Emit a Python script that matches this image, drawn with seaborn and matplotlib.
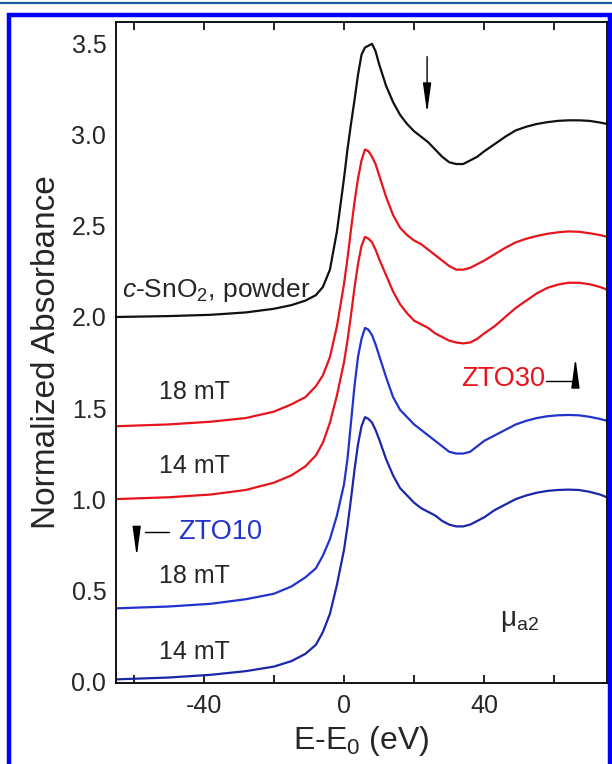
import numpy as np
import pandas as pd
import matplotlib
matplotlib.use("Agg")
import matplotlib.pyplot as plt
from matplotlib.patches import Rectangle
from matplotlib.lines import Line2D
from matplotlib.ticker import FixedLocator
import seaborn as sns

# ---- data ----
energy = [-65, -50, -38, -28, -20, -15, -11, -8, -6, -4, -2,
          0, 1, 2, 3, 4, 5, 6, 7, 8, 9, 10,
          12, 14, 16, 18, 20, 22, 24, 26, 28, 30, 32, 34, 36, 38, 40,
          43, 46, 49, 52, 55, 58, 61, 64, 67, 70, 73, 75]

snO2_powder = [2.00, 2.005, 2.012, 2.025, 2.045, 2.065, 2.09, 2.12, 2.165, 2.26, 2.47,
               2.76, 2.92, 3.06, 3.19, 3.33, 3.44, 3.48, 3.49, 3.50, 3.46, 3.39,
               3.27, 3.18, 3.11, 3.06, 3.02, 2.99, 2.96, 2.92, 2.88, 2.85, 2.84, 2.84, 2.86, 2.88, 2.91,
               2.95, 2.99, 3.025, 3.045, 3.06, 3.07, 3.077, 3.08, 3.08, 3.077, 3.068, 3.06]

zto30_18mT = [1.40, 1.41, 1.425, 1.445, 1.48, 1.52, 1.56, 1.62, 1.68, 1.78, 1.95,
              2.18, 2.32, 2.48, 2.63, 2.76, 2.86, 2.92, 2.91, 2.88, 2.84, 2.78,
              2.66, 2.56, 2.49, 2.45, 2.42, 2.40, 2.37, 2.34, 2.31, 2.28, 2.26, 2.26, 2.27, 2.29, 2.31,
              2.345, 2.38, 2.41, 2.43, 2.445, 2.457, 2.465, 2.47, 2.468, 2.46, 2.45, 2.44]

zto30_14mT = [1.00, 1.01, 1.025, 1.05, 1.09, 1.13, 1.18, 1.24, 1.31, 1.42, 1.57,
              1.75, 1.87, 2.01, 2.16, 2.29, 2.39, 2.44, 2.43, 2.41, 2.37, 2.32,
              2.23, 2.14, 2.07, 2.02, 1.98, 1.96, 1.94, 1.91, 1.89, 1.87, 1.86, 1.855, 1.86, 1.88, 1.91,
              1.95, 2.00, 2.05, 2.09, 2.13, 2.16, 2.178, 2.188, 2.188, 2.18, 2.165, 2.15]

zto10_18mT = [0.40, 0.41, 0.425, 0.45, 0.48, 0.52, 0.57, 0.62, 0.69, 0.78, 0.91,
              1.08, 1.22, 1.42, 1.62, 1.78, 1.88, 1.94, 1.93, 1.90, 1.85, 1.79,
              1.67, 1.56, 1.49, 1.45, 1.41, 1.38, 1.35, 1.32, 1.29, 1.26, 1.25, 1.25, 1.26, 1.29, 1.32,
              1.35, 1.38, 1.41, 1.43, 1.445, 1.455, 1.46, 1.462, 1.46, 1.452, 1.44, 1.43]

zto10_14mT = [0.01, 0.02, 0.035, 0.055, 0.08, 0.11, 0.15, 0.20, 0.27, 0.37, 0.53,
              0.72, 0.85, 1.00, 1.16, 1.30, 1.40, 1.45, 1.44, 1.42, 1.38, 1.33,
              1.22, 1.13, 1.06, 1.02, 0.98, 0.95, 0.93, 0.91, 0.88, 0.86, 0.85, 0.85, 0.86, 0.88, 0.90,
              0.94, 0.97, 1.00, 1.02, 1.035, 1.045, 1.05, 1.052, 1.05, 1.04, 1.025, 1.01]

series_names = ["c-SnO2 powder", "ZTO30 18 mT", "ZTO30 14 mT", "ZTO10 18 mT", "ZTO10 14 mT"]
series_values = [snO2_powder, zto30_18mT, zto30_14mT, zto10_18mT, zto10_14mT]
series_colors = ["#111111", "#e8141c", "#e8141c", "#2233cc", "#1a27a8"]

x_major = [-40, 0, 40]
x_minor = [-60, -20, 20, 60]
y_ticks = [0.0, 0.5, 1.0, 1.5, 2.0, 2.5, 3.0, 3.5]

df = pd.concat([pd.DataFrame({"E": energy, "A": v, "series": n})
                for n, v in zip(series_names, series_values)], ignore_index=True)

# ---- style ----
sns.set_theme(style="white")
plt.rcParams["font.family"] = ["Liberation Sans", "DejaVu Sans"]
plt.rcParams["mathtext.fontset"] = "custom"
plt.rcParams["mathtext.rm"] = "Liberation Sans"
plt.rcParams["mathtext.it"] = "Liberation Sans:italic"
plt.rcParams["axes.unicode_minus"] = False

fig = plt.figure(figsize=(6.12, 7.64), dpi=100)
ax = fig.add_axes([116 / 612, 1 - 683 / 764, (607 - 116) / 612, (683 - 22) / 764])

sns.lineplot(data=df, x="E", y="A", hue="series", hue_order=series_names,
             palette=dict(zip(series_names, series_colors)), legend=False,
             sort=False, estimator=None, lw=1.6, ax=ax)

ax.set_xlim(-65, 75)
ax.set_ylim(-0.01, 3.62)
ax.xaxis.set_major_locator(FixedLocator(x_major))
ax.xaxis.set_minor_locator(FixedLocator(x_minor))
ax.set_yticks(y_ticks)
ax.set_yticklabels([f"{v:.1f}" for v in y_ticks])
ax.tick_params(axis="x", which="both", direction="in", top=True, bottom=True,
               length=6, width=1.2, color="black", labelsize=18, pad=8)
ax.tick_params(axis="y", which="both", left=False, right=False, length=0,
               labelsize=18, pad=7)
for s in ax.spines.values():
    s.set_color("black")
    s.set_linewidth(1.3)

ax.set_xlabel("E-E$_\\mathregular{0}$ (eV)", fontsize=23, labelpad=4)
ax.set_ylabel("Normalized Absorbance", fontsize=24, labelpad=7)

# ---- annotations ----
fs = 18
ax.text(-63.4, 2.15, "$c$-SnO$_\\mathregular{2}$, powder", fontsize=19, ha="left", va="center")
ax.text(-52.6, 1.59, "18 mT", fontsize=fs, ha="left", va="center")
ax.text(-52.6, 1.18, "14 mT", fontsize=fs, ha="left", va="center")
ax.text(-52.6, 0.58, "18 mT", fontsize=fs, ha="left", va="center")
ax.text(-52.6, 0.16, "14 mT", fontsize=fs, ha="left", va="center")
ax.text(44.6, 0.33, "μ$_\\mathregular{a2}$", fontsize=20, ha="left", va="center")

ax.text(57.4, 1.66, "ZTO30", fontsize=19.5, color="#e8141c", ha="right", va="center")
ax.plot([57.6, 65.6], [1.647, 1.647], color="black", lw=1.0)
ax.annotate("", xy=(66.0, 1.775), xytext=(66.0, 1.636),
            arrowprops=dict(arrowstyle="-|>,head_length=1.8,head_width=0.25",
                            color="black", lw=1, shrinkA=0, shrinkB=0, mutation_scale=10))

ax.text(-47.4, 0.82, "ZTO10", fontsize=19.5, color="#2233cc", ha="left", va="center")
ax.plot([-56.6, -50.0], [0.818, 0.818], color="black", lw=1.0)
ax.annotate("", xy=(-59.1, 0.685), xytext=(-59.1, 0.823),
            arrowprops=dict(arrowstyle="-|>,head_length=1.8,head_width=0.25",
                            color="black", lw=1, shrinkA=0, shrinkB=0, mutation_scale=10))

ax.annotate("", xy=(23.7, 3.12), xytext=(23.7, 3.43),
            arrowprops=dict(arrowstyle="-|>,head_length=1.8,head_width=0.25",
                            color="black", lw=1, shrinkA=0, shrinkB=0, mutation_scale=10))

# ---- frame decorations ----
fig.add_artist(Line2D([0, 1], [1 - 3 / 764, 1 - 3 / 764], transform=fig.transFigure,
                      color="#1c5aa0", lw=1.6))
fig.add_artist(Rectangle((9 / 612, -0.05), (609.5 - 9) / 612, 1.05 - 15.5 / 764,
                         transform=fig.transFigure, fill=False, edgecolor="#0000ff", lw=3.2))

fig.savefig("out.png", dpi=100)
